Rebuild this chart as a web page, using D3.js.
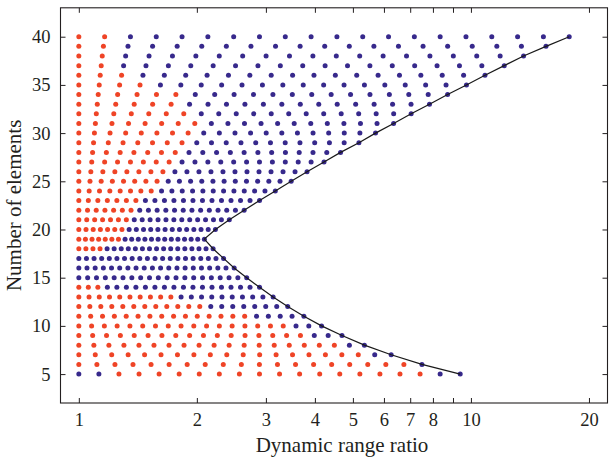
<!DOCTYPE html>
<html>
<head>
<meta charset="utf-8">
<script src="https://cdn.jsdelivr.net/npm/d3@7"></script>
<style>
  body { margin: 0; background: #fff; }
  text { font-family: "Liberation Serif", "DejaVu Serif", serif; fill: #231f20; }
  .axis path, .axis line { stroke: #231f20; }
</style>
</head>
<body>
<div id="my_dataviz"></div>
<script>
// number of elements (one row of dots each)
var elements = [5, 6, 7, 8, 9, 10, 11, 12, 13, 14, 15, 16, 17, 18, 19, 20, 21, 22,
                23, 24, 25, 26, 27, 28, 29, 30, 31, 32, 33, 34, 35, 36, 37, 38, 39, 40];

// largest dynamic range ratio reached in each row (end of the black curve)
var maxRatio = [9.39, 7.50, 6.26, 5.35, 4.69, 4.16, 3.75, 3.41, 3.13, 2.89, 2.68, 2.49,
                2.34, 2.20, 2.09, 2.23, 2.42, 2.64, 2.89, 3.17, 3.48, 3.82, 4.22, 4.65,
                5.18, 5.71, 6.35, 7.04, 7.84, 8.72, 9.74, 10.86, 12.16, 13.62, 15.54, 17.81];

// every row is swept with 20 ratios from 1 up to its maximum
var stepsPerRow = 20;

// class of each of the 20 dots in a row: r = red, b = blue
var dotClass = [
  "bbrrrrrrrrrrrrrrrrbb", // 5
  "rrrrrrrrrrrrrrrrrrrb", // 6
  "rrrrrrrrrrrrrrrrrrbb", // 7
  "rrrrrrrrrrrrrrrrrrbb", // 8
  "rrrrrrrrrrrrrrrrrbbb", // 9
  "rrrrrrrrrrrrrrrrrbbb", // 10
  "rrrrrrrrrrrrrrrbbbbb", // 11
  "rrrrrrrrrrrrbbbbbbbb", // 12
  "rrrrrrrrrrbbbbbbbbbb", // 13
  "rrrbbbbbbbbbbbbbbbbb", // 14
  "bbbbbbbbbbbbbbbbbbbb", // 15
  "bbbbbbbbbbbbbbbbbbbb", // 16
  "bbbbbbbbbbbbbbbbbbbb", // 17
  "rrrrbbbbbbbbbbbbbbbb", // 18
  "rrrrrrrbbbbbbbbbbbbb", // 19
  "rrrrrrrbbbbbbbbbbbbb", // 20
  "rrrrrrrbbbbbbbbbbbbb", // 21
  "rrrrrrrbbbbbbbbbbbbb", // 22
  "rrrrrrrbbbbbbbbbbbbb", // 23
  "rrrrrrrrbbbbbbbbbbbb", // 24
  "rrrrrrrrbbbbbbbbbbbb", // 25
  "rrrrrrrrbbbbbbbbbbbb", // 26
  "rrrrrrrrbbbbbbbbbbbb", // 27
  "rrrrrrrrbbbbbbbbbbbb", // 28
  "rrrrrrrrbbbbbbbbbbbb", // 29
  "rrrrrrrrbbbbbbbbbbbb", // 30
  "rrrrrrrrbbbbbbbbbbbb", // 31
  "rrrrrrrbbbbbbbbbbbbb", // 32
  "rrrrrrbbbbbbbbbbbbbb", // 33
  "rrrrrrbbbbbbbbbbbbbb", // 34
  "rrrrbbbbbbbbbbbbbbbb", // 35
  "rrrbbbbbbbbbbbbbbbbb", // 36
  "rrbbbbbbbbbbbbbbbbbb", // 37
  "rrbbbbbbbbbbbbbbbbbb", // 38
  "rrbbbbbbbbbbbbbbbbbb", // 39
  "rrbbbbbbbbbbbbbbbbbb"  // 40
];

var xTicks = [1, 2, 3, 4, 5, 6, 7, 8, 9, 10, 20];
var xTickLabels = ["1", "2", "3", "4", "5", "6", "7", "8", "", "10", "20"];
var yTicks = [5, 10, 15, 20, 25, 30, 35, 40];

var colors = {r: "#ef4426", b: "#37298c"};

// set the dimensions and margins of the graph
var margin = {top: 7.8, right: 1.5, bottom: 56, left: 60.5},
    width = 609 - margin.left - margin.right,
    height = 459 - margin.top - margin.bottom;

var svg = d3.select("#my_dataviz")
  .append("svg")
    .attr("width", 609)
    .attr("height", 459)
  .append("g")
    .attr("transform", "translate(" + margin.left + "," + margin.top + ")");

var x = d3.scaleLog()
  .domain([0.898, 22.3])
  .range([0, width]);

var y = d3.scaleLinear()
  .domain([2, 43])
  .range([height, 0]);

// build the dots of every row
var dots = [];
elements.forEach(function(n, i) {
  for (var k = 0; k < stepsPerRow; k++) {
    dots.push({
      n: n,
      ratio: Math.pow(maxRatio[i], k / (stepsPerRow - 1)),
      cls: dotClass[i][k]
    });
  }
});

// frame
svg.append("rect")
  .attr("width", width)
  .attr("height", height)
  .attr("fill", "none")
  .attr("stroke", "#231f20")
  .attr("stroke-width", 1.1);

// bottom axis
var xAxis = svg.append("g")
  .attr("class", "axis")
  .attr("transform", "translate(0," + height + ")")
  .call(d3.axisBottom(x)
    .tickValues(xTicks)
    .tickFormat(function(d, i) { return xTickLabels[i]; })
    .tickSizeInner(-5)
    .tickSizeOuter(0)
    .tickPadding(10));
xAxis.select(".domain").remove();
xAxis.selectAll("text").style("font-size", "18.5px");

// top ticks
svg.append("g")
  .attr("class", "axis")
  .call(d3.axisTop(x).tickValues(xTicks).tickFormat("").tickSizeInner(-5).tickSizeOuter(0))
  .call(g => g.select(".domain").remove());

// left axis
var yAxis = svg.append("g")
  .attr("class", "axis")
  .call(d3.axisLeft(y)
    .tickValues(yTicks)
    .tickSizeInner(-5)
    .tickSizeOuter(0)
    .tickPadding(10));
yAxis.select(".domain").remove();
yAxis.selectAll("text").style("font-size", "18.5px");

// right ticks
svg.append("g")
  .attr("class", "axis")
  .attr("transform", "translate(" + width + ",0)")
  .call(d3.axisRight(y).tickValues(yTicks).tickFormat("").tickSizeInner(-5).tickSizeOuter(0))
  .call(g => g.select(".domain").remove());

// dots
svg.selectAll("mycircle")
  .data(dots)
  .enter()
  .append("circle")
    .attr("cx", function(d) { return x(d.ratio); })
    .attr("cy", function(d) { return y(d.n); })
    .attr("r", 2.5)
    .style("fill", function(d) { return colors[d.cls]; });

// curve through the last dot of every row
svg.append("path")
  .datum(elements.map(function(n, i) { return {n: n, ratio: maxRatio[i]}; }))
  .attr("fill", "none")
  .attr("stroke", "#1a1a1a")
  .attr("stroke-width", 1.2)
  .attr("d", d3.line()
    .x(function(d) { return x(d.ratio); })
    .y(function(d) { return y(d.n); }));

// axis titles
svg.append("text")
  .attr("x", width / 2 + 8)
  .attr("y", height + 49)
  .style("text-anchor", "middle")
  .style("font-size", "21px")
  .text("Dynamic range ratio");

svg.append("text")
  .attr("transform", "rotate(-90)")
  .attr("x", -(y(22.5)))
  .attr("y", -40)
  .style("text-anchor", "middle")
  .style("font-size", "21px")
  .text("Number of elements");
</script>
</body>
</html>
